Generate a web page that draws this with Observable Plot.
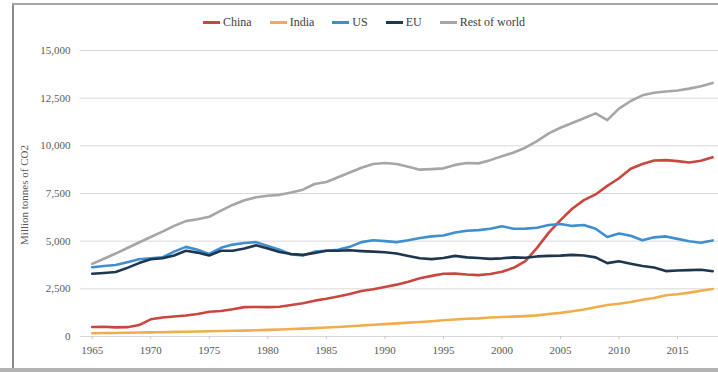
<!DOCTYPE html>
<html>
<head>
<meta charset="utf-8">
<script src="https://cdn.jsdelivr.net/npm/d3@7"></script>
<script src="https://cdn.jsdelivr.net/npm/@observablehq/plot@0.6"></script>
<style>
  body { margin: 0; background: #fff; font-family: "Liberation Serif", "Times New Roman", serif; }
  #wrap { position: relative; width: 718px; height: 372px; overflow: hidden; background: #fff; }
  #frameL { position: absolute; left: 12px; top: 4px; width: 2px; height: 364px; background: #8c8c8c; }
  #frameT { position: absolute; left: 12px; top: 3px; right: 0; height: 2px; background: #a6a6a6; }
  #frameB { position: absolute; left: 0; bottom: 0; right: 0; height: 4px; background: #b3b3b3; }
  #chart { position: absolute; left: 0; top: 0; }
  #chart svg, #chart svg text { font-family: "Liberation Serif", "Times New Roman", serif !important; }
  #legend { position: absolute; left: 203px; top: 15px; display: flex; align-items: center; font-size: 12px; color: #404040; white-space: nowrap; }
  .item { display: flex; align-items: center; margin-right: 18px; }
  .sw { width: 17px; height: 3px; margin-right: 3px; }
  #ytitle { position: absolute; left: 24px; top: 195px; transform: translate(-50%, -50%) rotate(-90deg); font-size: 11px; color: #595959; white-space: nowrap; }
</style>
</head>
<body>
<div id="wrap">
  <div id="chart"></div>
  <div id="frameL"></div>
  <div id="frameT"></div>
  <div id="frameB"></div>
  <div id="legend"></div>
  <div id="ytitle">Million tonnes of CO2</div>
</div>
<script>
const years = [1965,1966,1967,1968,1969,1970,1971,1972,1973,1974,1975,1976,1977,1978,1979,1980,1981,1982,1983,1984,1985,1986,1987,1988,1989,1990,1991,1992,1993,1994,1995,1996,1997,1998,1999,2000,2001,2002,2003,2004,2005,2006,2007,2008,2009,2010,2011,2012,2013,2014,2015,2016,2017,2018];

const china = [500,510,480,490,600,900,1000,1050,1100,1180,1300,1340,1430,1540,1550,1540,1560,1650,1740,1880,1980,2100,2230,2390,2480,2600,2720,2870,3050,3180,3290,3300,3250,3220,3280,3400,3600,3950,4650,5450,6100,6700,7150,7450,7900,8300,8800,9050,9230,9250,9200,9130,9220,9400];
const india = [170,180,185,200,210,215,225,240,250,260,275,290,300,310,330,345,370,390,415,440,470,500,540,580,620,650,690,730,760,800,850,890,930,950,1000,1020,1040,1070,1110,1180,1240,1320,1420,1530,1650,1720,1810,1930,2020,2160,2220,2300,2400,2490];
const us = [3630,3700,3750,3900,4050,4100,4150,4450,4700,4550,4330,4650,4820,4900,4950,4750,4550,4300,4250,4450,4500,4550,4700,4950,5050,5000,4950,5050,5170,5250,5300,5450,5550,5580,5650,5780,5650,5660,5700,5850,5900,5800,5850,5650,5220,5400,5280,5050,5200,5250,5120,5000,4920,5040];
const eu = [3290,3330,3380,3600,3850,4050,4100,4250,4500,4400,4250,4500,4500,4620,4780,4620,4430,4330,4280,4380,4500,4500,4520,4480,4450,4420,4350,4220,4100,4060,4120,4230,4150,4120,4070,4100,4150,4130,4200,4230,4240,4280,4250,4150,3850,3950,3820,3700,3620,3430,3460,3480,3500,3420];
const restOfWorld = [3810,4080,4350,4640,4930,5220,5500,5800,6050,6150,6280,6600,6900,7150,7300,7380,7430,7550,7700,8000,8100,8350,8600,8850,9050,9100,9050,8900,8750,8780,8820,9000,9100,9080,9250,9450,9650,9900,10250,10650,10950,11200,11450,11700,11350,11950,12350,12650,12780,12850,12900,13000,13130,13300];

const seriesNames = ["China", "India", "US", "EU", "Rest of world"];
const seriesColors = ["#c9473f", "#f0ad4e", "#3f8fcf", "#1f3650", "#a6a6a6"];
const xTicks = [1965,1970,1975,1980,1985,1990,1995,2000,2005,2010,2015];
const yTicks = [0,2500,5000,7500,10000,12500,15000];

const seriesValues = [china, india, us, eu, restOfWorld];
const table = [];
seriesNames.forEach((name, i) => {
  years.forEach((yr, j) => table.push({series: name, year: yr, value: seriesValues[i][j]}));
});

const chart = Plot.plot({
  width: 718,
  height: 372,
  marginTop: 50,
  marginBottom: 36,
  marginLeft: 80,
  marginRight: 0,
  style: { fontFamily: "Liberation Serif, Times New Roman, serif", fontSize: "11px", color: "#595959", background: "transparent" },
  x: { domain: [1964, 2018.5] },
  y: { domain: [0, 15000] },
  color: { domain: seriesNames, range: seriesColors },
  marks: [
    Plot.gridY(yTicks, { stroke: "#d9d9d9", strokeOpacity: 1 }),
    Plot.axisY(yTicks, { tickSize: 0, tickPadding: 10, label: null, tickFormat: d3.format(",") }),
    Plot.axisX(xTicks, { tickSize: 3, tickPadding: 7, label: null, tickFormat: d => String(d), stroke: "#c8c8c8" }),
    Plot.line(table, { x: "year", y: "value", z: "series", stroke: "series", strokeWidth: 2.6, curve: "linear" })
  ]
});
document.getElementById("chart").appendChild(chart);

const legend = document.getElementById("legend");
seriesNames.forEach((name, i) => {
  const it = document.createElement("div");
  it.className = "item";
  const sw = document.createElement("div");
  sw.className = "sw";
  sw.style.background = seriesColors[i];
  const tx = document.createElement("span");
  tx.textContent = name;
  it.appendChild(sw);
  it.appendChild(tx);
  legend.appendChild(it);
});
</script>
</body>
</html>
